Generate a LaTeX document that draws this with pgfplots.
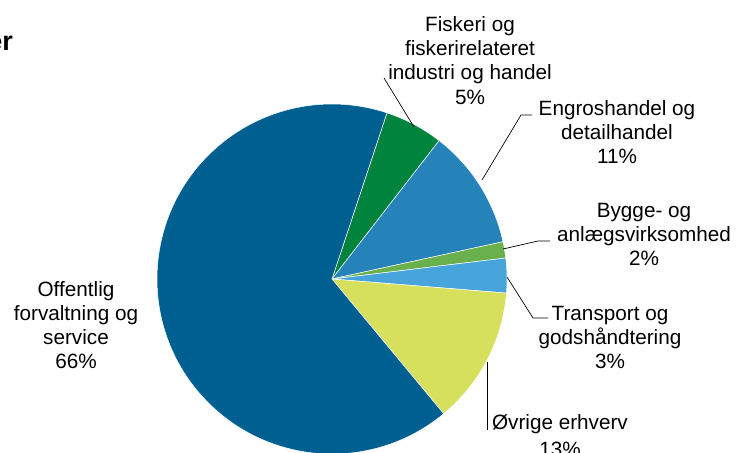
\documentclass[border=0pt]{standalone}
\usepackage{pgfplots}
\usepackage{pgfplotstable}
\pgfplotsset{compat=1.18}
\usepackage{fontspec}
\setmainfont{Liberation Sans}
\definecolor{cOff}{HTML}{005F91}
\definecolor{cFisk}{HTML}{00843D}
\definecolor{cEngros}{HTML}{2683BA}
\definecolor{cBygge}{HTML}{6AB04D}
\definecolor{cTrans}{HTML}{48A5DC}
\definecolor{cOvr}{HTML}{D6E05C}
\tikzset{lbl/.style={font=\fontsize{20.7bp}{24bp}\selectfont, inner sep=0pt, anchor=base, text=black}}
% shares in percent, clockwise from the first slice
\pgfplotstableread{
value color
5.4   cFisk
11.1  cEngros
1.5   cBygge
3.2   cTrans
12.7  cOvr
66.1  cOff
}\piedata
\begin{document}
\begin{tikzpicture}
\pgfplotstablegetrowsof{\piedata}
\pgfmathtruncatemacro\nrows{\pgfplotsretval-1}
\xdef\curang{71.7}
\gdef\pieslices{}
\foreach \i in {0,...,\nrows}{
  \pgfplotstablegetelem{\i}{value}\of\piedata \let\sliceval\pgfplotsretval
  \pgfplotstablegetelem{\i}{color}\of\piedata \let\slicecol\pgfplotsretval
  \pgfmathsetmacro\endang{\curang-3.6*\sliceval}
  \xdef\pieslices{\unexpanded\expandafter{\pieslices}\noexpand\fill[\slicecol, draw=white, line width=0.5pt] (axis cs:332,279) -- ++(\curang:175bp) arc[start angle=\curang, end angle=\endang, radius=175bp] -- cycle;}
  \xdef\curang{\endang}
}
\begin{axis}[
  at={(0,0)}, anchor=south west,
  width=736bp, height=453bp, scale only axis,
  xmin=0, xmax=736, ymin=0, ymax=453, y dir=reverse,
  hide axis, clip=true,
]
\addplot[draw=none] coordinates {(0,0)};
\pieslices
% leader lines
\draw[black, line width=0.7pt] (axis cs:384,78) -- (axis cs:414,127);
\draw[black, line width=0.7pt] (axis cs:532,115) -- (axis cs:521,115) -- (axis cs:482,180);
\draw[black, line width=0.7pt] (axis cs:550,241) -- (axis cs:538,241) -- (axis cs:503,249);
\draw[black, line width=0.7pt] (axis cs:548,318) -- (axis cs:533,318) -- (axis cs:507,277);
\draw[black, line width=0.7pt] (axis cs:487,362) -- (axis cs:487,430);
% labels
\node[lbl] at (axis cs:470,32) {Fiskeri og};
\node[lbl] at (axis cs:470,56) {fiskerirelateret};
\node[lbl] at (axis cs:470,80) {industri og handel};
\node[lbl] at (axis cs:470,104) {5\%};
\node[lbl] at (axis cs:617,115) {Engroshandel og};
\node[lbl] at (axis cs:617,139) {detailhandel};
\node[lbl] at (axis cs:617,163) {11\%};
\node[lbl] at (axis cs:644,217) {Bygge- og};
\node[lbl] at (axis cs:644,241) {anlægsvirksomhed};
\node[lbl] at (axis cs:644,265) {2\%};
\node[lbl] at (axis cs:610,320) {Transport og};
\node[lbl] at (axis cs:610,344) {godshåndtering};
\node[lbl] at (axis cs:610,368) {3\%};
\node[lbl] at (axis cs:560,429) {Øvrige erhverv};
\node[lbl] at (axis cs:560,456) {13\%};
\node[lbl] at (axis cs:76,296) {Offentlig};
\node[lbl] at (axis cs:76,320) {forvaltning og};
\node[lbl] at (axis cs:76,344) {service};
\node[lbl] at (axis cs:76,368) {66\%};
\node[inner sep=0pt, anchor=base east, font=\fontsize{27bp}{30bp}\selectfont\bfseries] at (axis cs:13,51) {er};
\end{axis}
\pgfresetboundingbox
\path[use as bounding box] (0,0) rectangle (736bp,453bp);
\end{tikzpicture}
\end{document}
